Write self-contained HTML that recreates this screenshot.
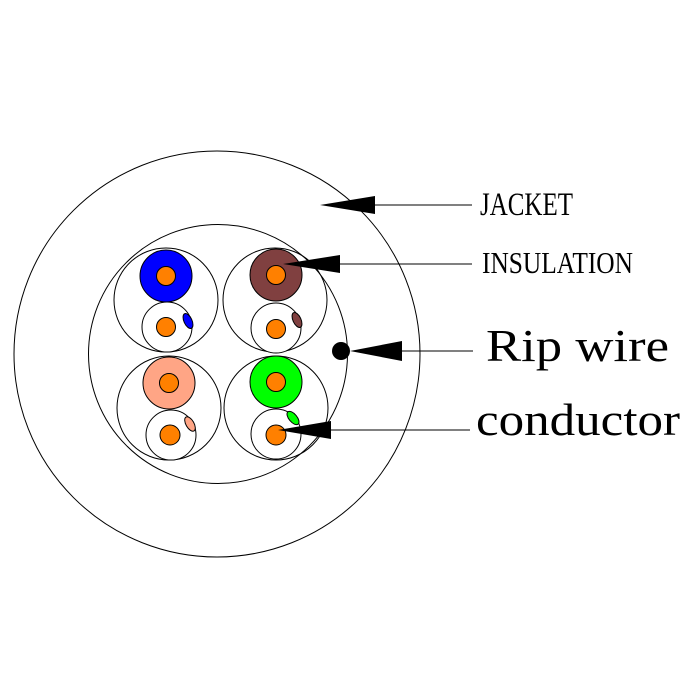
<!DOCTYPE html>
<html><head><style>html,body{margin:0;padding:0;background:#fff}svg{display:block}</style></head>
<body>
<svg width="700" height="700" viewBox="0 0 700 700" xmlns="http://www.w3.org/2000/svg">
<rect width="700" height="700" fill="#fff"/>
<g fill="none" stroke="#000" stroke-width="1">
<circle cx="217" cy="354" r="203"/>
<circle cx="218" cy="354" r="129.5"/>
<circle cx="166" cy="300" r="52"/>
<circle cx="275" cy="300" r="52"/>
<circle cx="169" cy="408" r="52"/>
<circle cx="276" cy="408" r="52"/>
</g>
<g stroke="#000" stroke-width="1">
<circle cx="166" cy="276" r="26" fill="#0000ff"/>
<circle cx="276" cy="275" r="26" fill="#804040"/>
<circle cx="169" cy="383" r="26" fill="#ffa585"/>
<circle cx="276" cy="382" r="26" fill="#00ff00"/>
<circle cx="167" cy="327" r="25" fill="#fff"/>
<circle cx="276" cy="328" r="25" fill="#fff"/>
<circle cx="171" cy="435" r="25" fill="#fff"/>
<circle cx="276" cy="434" r="25" fill="#fff"/>
<ellipse cx="188" cy="321" rx="4" ry="8" fill="#0000ff" transform="rotate(-25 188 321)"/>
<ellipse cx="297" cy="320" rx="4" ry="8" fill="#804040" transform="rotate(-25 297 320)"/>
<ellipse cx="190" cy="424" rx="4" ry="8" fill="#ffa585" transform="rotate(-30 190 424)"/>
<ellipse cx="293" cy="418" rx="4" ry="8" fill="#00ff00" transform="rotate(-40 293 418)"/>
<g fill="#ff8000">
<circle cx="166" cy="276" r="9.5"/>
<circle cx="276" cy="275" r="9.5"/>
<circle cx="169" cy="383" r="9.5"/>
<circle cx="276" cy="382" r="9.5"/>
<circle cx="166" cy="327" r="9.5"/>
<circle cx="276" cy="329" r="9.5"/>
<circle cx="170" cy="435" r="10"/>
<circle cx="276" cy="435" r="10"/>
</g>
</g>
<circle cx="341" cy="351" r="9" fill="#000"/>
<g stroke="#000" stroke-width="1">
<line x1="375" y1="205" x2="472" y2="205"/>
<line x1="340" y1="264" x2="472" y2="264"/>
<line x1="402" y1="351" x2="473" y2="351"/>
<line x1="331" y1="430" x2="470" y2="430"/>
</g>
<g fill="#000">
<polygon points="320,205 375,196 375,214"/>
<polygon points="283,264 340,255 340,273"/>
<polygon points="350,351 402,341 402,361"/>
<polygon points="278,430 331,421 331,439"/>
</g>
<g font-family="Liberation Serif, serif" fill="#000">
<text x="480" y="215" font-size="33" textLength="93" lengthAdjust="spacingAndGlyphs">JACKET</text>
<text x="482" y="273" font-size="31" textLength="151" lengthAdjust="spacingAndGlyphs">INSULATION</text>
<text x="486" y="361" font-size="46" textLength="183" lengthAdjust="spacingAndGlyphs">Rip wire</text>
<text x="476" y="435" font-size="46" textLength="204" lengthAdjust="spacingAndGlyphs">conductor</text>
</g>
</svg>
</body></html>
